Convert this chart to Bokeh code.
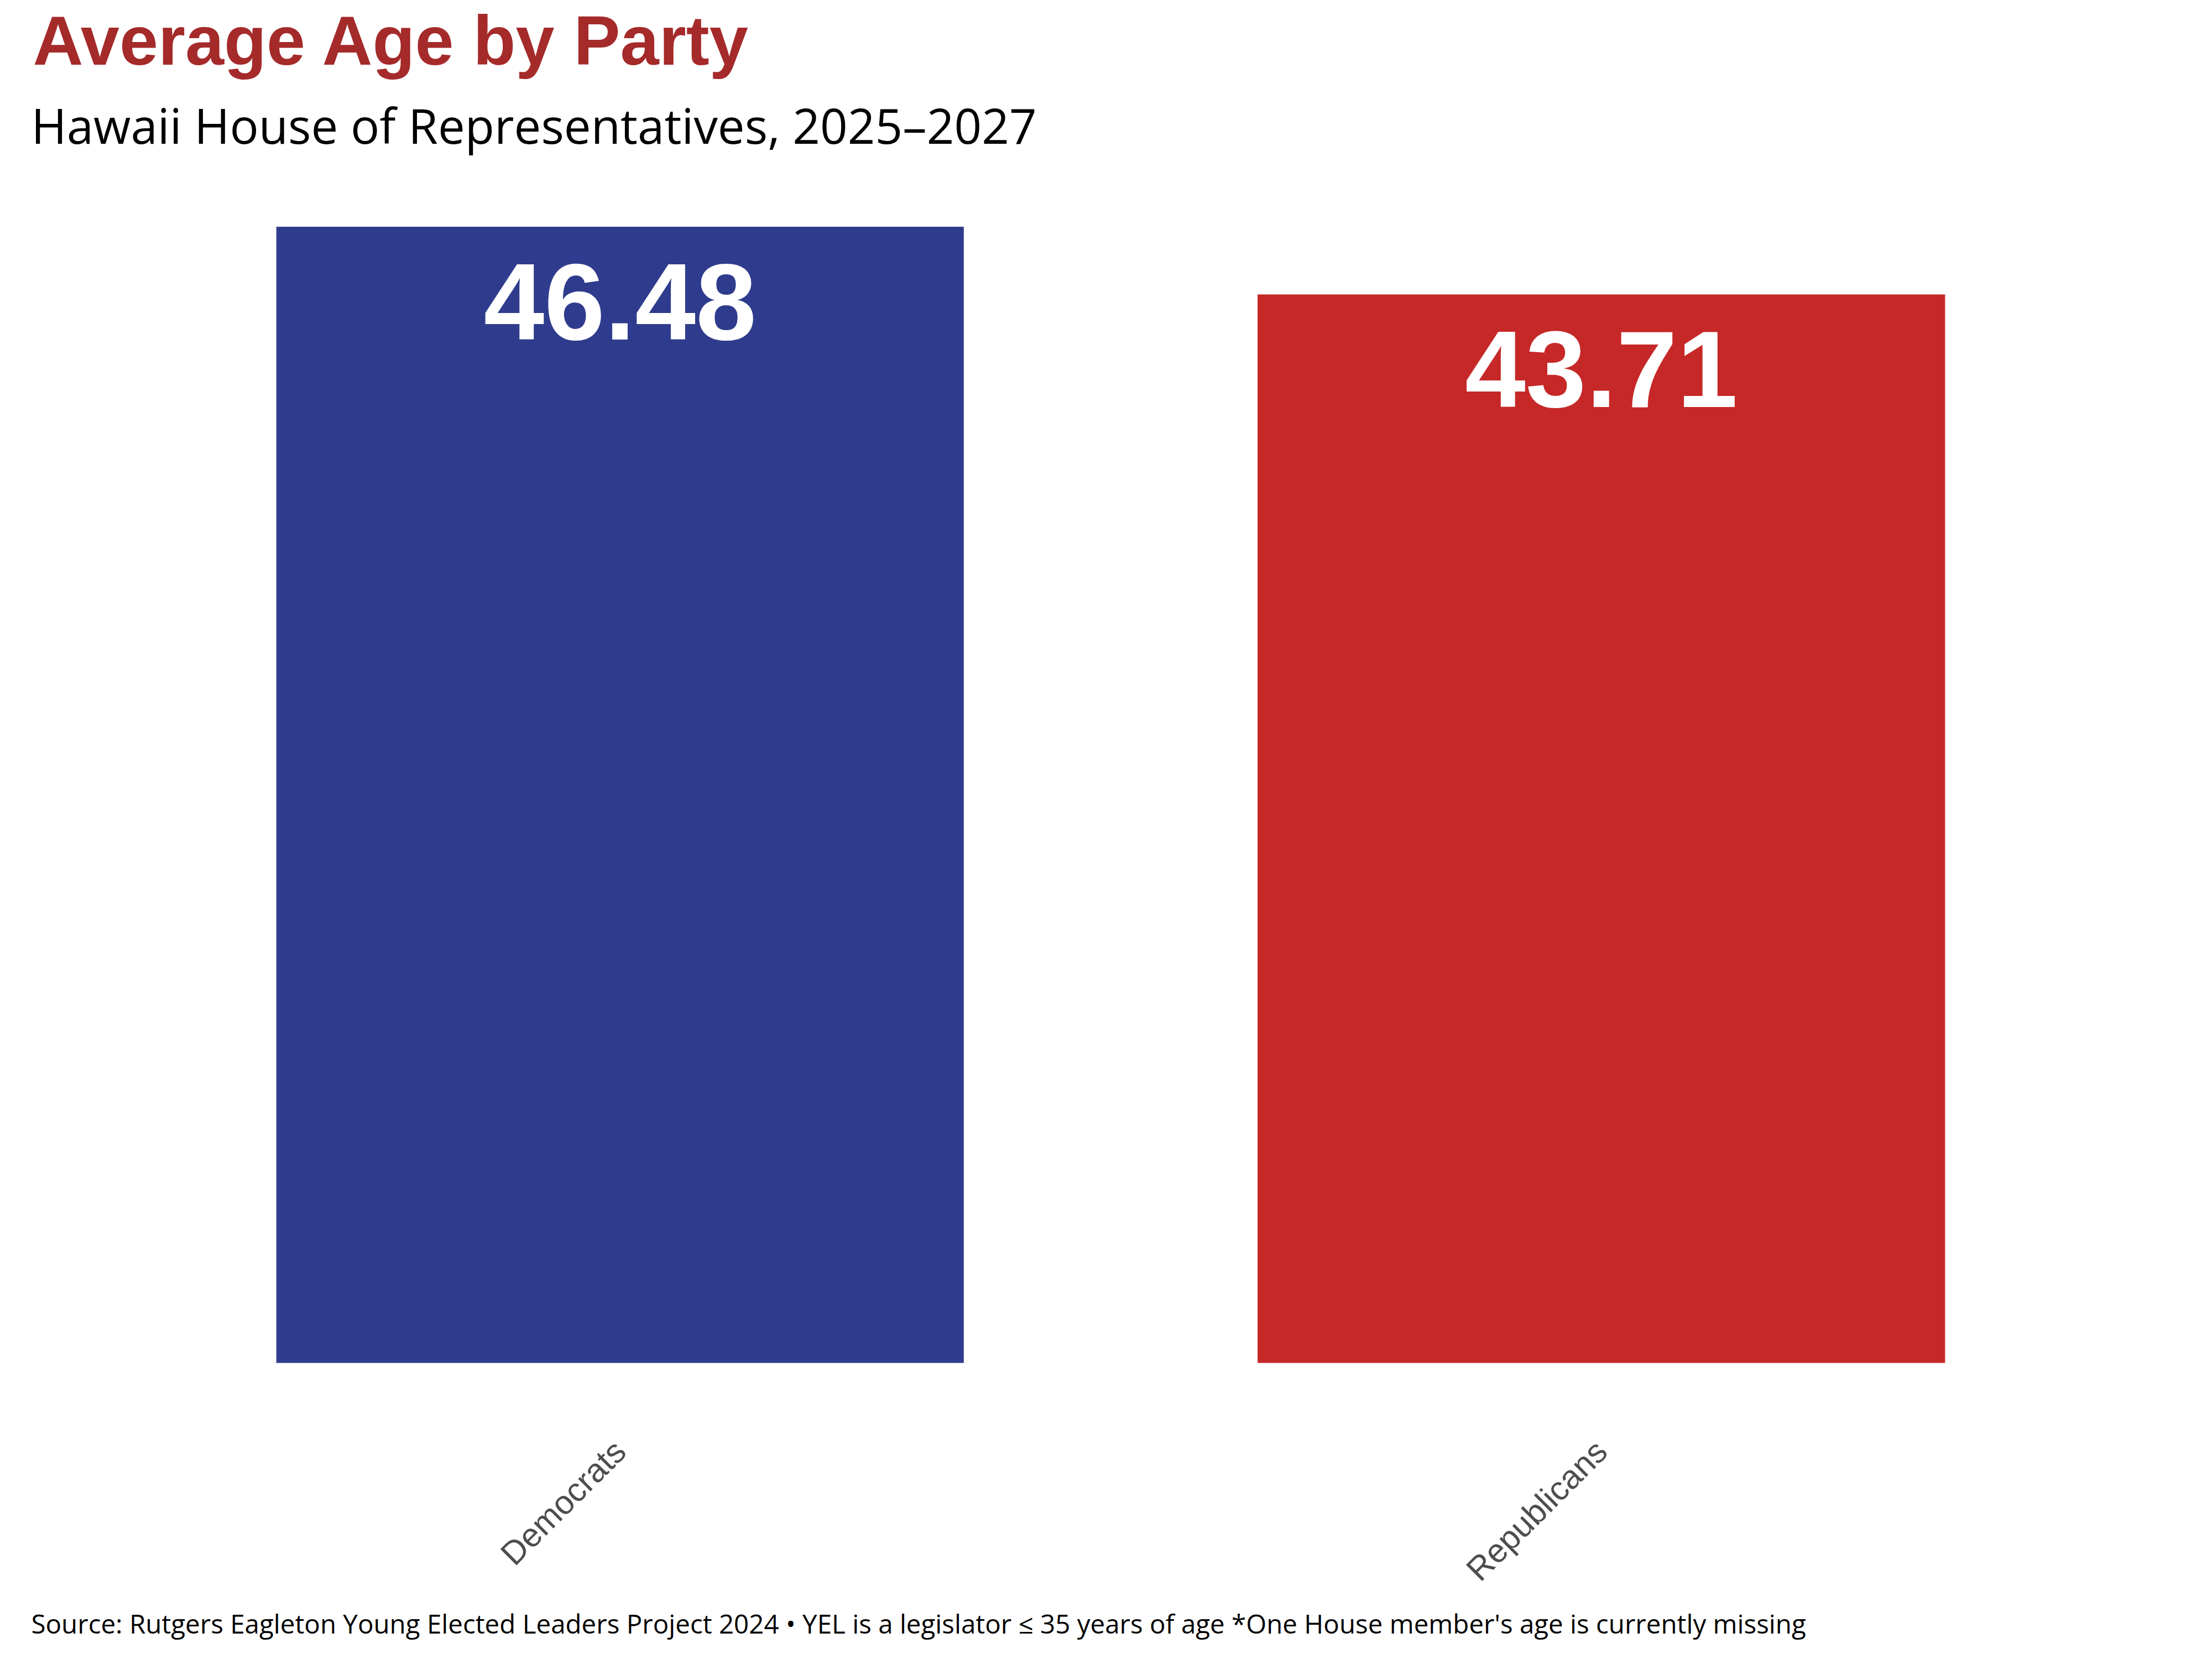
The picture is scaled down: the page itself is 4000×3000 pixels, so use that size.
import math
from bokeh.plotting import figure
from bokeh.models import ColumnDataSource, FactorRange, Range1d, Title
from bokeh.core.properties import value
from bokeh.embed import file_html
from bokeh.resources import INLINE

parties = ["Democrats", "Republicans"]
avg_age = [46.48, 43.71]
bar_colors = ["#2F3C8D", "#C62828"]
age_labels = ["46.48", "43.71"]

title_text = "Average Age by Party"
subtitle_text = "Hawaii House of Representatives, 2025\u20132027"
caption_text = ("Source: Rutgers Eagleton Young Elected Leaders Project 2024 \u2022 YEL is a legislator "
                "\u2264 35 years of age *One House member's age is currently missing")

src = ColumnDataSource(dict(party=parties, age=avg_age, color=bar_colors, label=age_labels))

p = figure(x_range=FactorRange(factors=parties, range_padding=0.1),
           y_range=Range1d(0, 48.857),
           width=3984, height=2984, output_backend="svg", toolbar_location=None,
           min_border_left=56, min_border_right=24, min_border_top=305, min_border_bottom=520,
           background_fill_color="white", border_fill_color="white")

p.vbar(x="party", top="age", width=0.7, color="color", source=src)
p.text(x="party", y="age", text="label", source=src, text_color="white",
       text_font=value("Liberation Sans"), text_font_style="bold", text_font_size="197px",
       text_align="center", text_baseline="alphabetic", y_offset=135)

p.xaxis.major_label_orientation = math.pi / 4
p.xaxis.major_label_text_font = "Liberation Sans"
p.xaxis.major_label_text_font_size = "60px"
p.xaxis.major_label_text_color = "#4D4D4D"
p.xaxis.major_label_standoff = 144
p.xaxis.axis_line_color = None
p.xaxis.major_tick_line_color = None
p.xaxis.minor_tick_line_color = None
p.yaxis.visible = False
p.xgrid.visible = False
p.ygrid.visible = False
p.outline_line_color = None

p.add_layout(Title(text=subtitle_text, text_font="Open Sans", text_font_size="87px",
                   text_font_style="normal", text_color="black", align="left",
                   standoff=42), "above")
p.add_layout(Title(text=title_text, text_font="Liberation Sans", text_font_size="126px",
                   text_font_style="bold", text_color="#A52A2A", align="left",
                   offset=3, standoff=0), "above")
p.add_layout(Title(text=caption_text, text_font="Open Sans", text_font_size="47.5px",
                   text_font_style="normal", text_color="black", align="left",
                   standoff=5), "below")

open("out.html", "w").write(file_html(p, INLINE))
